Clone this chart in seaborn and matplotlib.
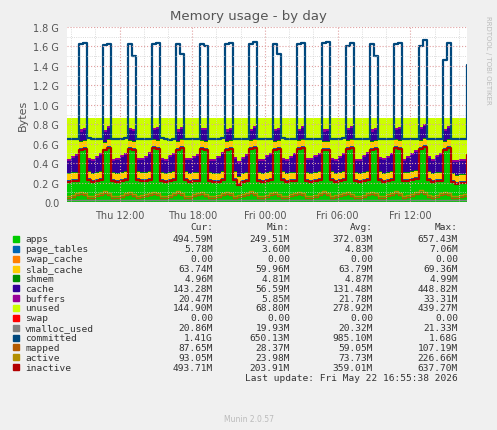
import numpy as np
import matplotlib.pyplot as plt
import seaborn as sns

sns.set_style("white")
plt.rcParams['font.family'] = ['DejaVu Sans']

# 20-minute samples starting Thu 07:40, values in GB
hours = [i / 3 for i in range(100)]

apps = [
    0.22, 0.23, 0.23, 0.55, 0.56, 0.24,
    0.22, 0.23, 0.24, 0.54, 0.57, 0.23,
    0.22, 0.23, 0.24, 0.56, 0.55, 0.24,
    0.23, 0.23, 0.24, 0.57, 0.56, 0.23,
    0.22, 0.23, 0.24, 0.55, 0.57, 0.24,
    0.22, 0.23, 0.23, 0.56, 0.55, 0.23,
    0.22, 0.22, 0.24, 0.55, 0.56, 0.24,
    0.19, 0.22, 0.23, 0.56, 0.57, 0.23,
    0.22, 0.23, 0.24, 0.55, 0.56, 0.24,
    0.22, 0.23, 0.23, 0.56, 0.57, 0.23,
    0.22, 0.23, 0.24, 0.55, 0.55, 0.24,
    0.22, 0.23, 0.24, 0.56, 0.57, 0.23,
    0.22, 0.23, 0.24, 0.55, 0.56, 0.24,
    0.22, 0.23, 0.24, 0.57, 0.56, 0.23,
    0.23, 0.24, 0.25, 0.56, 0.58, 0.24,
    0.22, 0.23, 0.23, 0.55, 0.57, 0.22,
    0.20, 0.21, 0.21, 0.49,
]
cache = [
    0.13, 0.15, 0.17, 0.10, 0.11, 0.12,
    0.13, 0.15, 0.17, 0.10, 0.12, 0.12,
    0.14, 0.16, 0.17, 0.11, 0.11, 0.12,
    0.13, 0.15, 0.18, 0.10, 0.12, 0.13,
    0.13, 0.16, 0.17, 0.10, 0.11, 0.12,
    0.14, 0.15, 0.17, 0.11, 0.12, 0.12,
    0.13, 0.16, 0.18, 0.10, 0.11, 0.13,
    0.14, 0.15, 0.17, 0.10, 0.12, 0.12,
    0.13, 0.16, 0.17, 0.11, 0.11, 0.12,
    0.13, 0.15, 0.18, 0.10, 0.12, 0.13,
    0.14, 0.16, 0.17, 0.10, 0.11, 0.12,
    0.13, 0.15, 0.17, 0.11, 0.12, 0.12,
    0.13, 0.16, 0.18, 0.10, 0.11, 0.13,
    0.14, 0.15, 0.17, 0.10, 0.12, 0.12,
    0.15, 0.17, 0.19, 0.12, 0.13, 0.14,
    0.13, 0.16, 0.18, 0.11, 0.12, 0.12,
    0.14, 0.14, 0.14, 0.14,
]
committed = [
    0.65, 0.65, 0.65, 1.62, 1.64, 0.66,
    0.65, 0.65, 0.65, 1.61, 1.63, 0.65,
    0.65, 0.65, 0.66, 1.63, 1.50, 0.65,
    0.65, 0.65, 0.65, 1.62, 1.64, 0.66,
    0.65, 0.64, 0.65, 1.62, 1.52, 0.65,
    0.65, 0.65, 0.65, 1.63, 1.60, 0.65,
    0.65, 0.65, 0.66, 1.62, 1.64, 0.65,
    0.65, 0.65, 0.65, 1.63, 1.65, 0.65,
    0.65, 0.65, 0.65, 1.62, 1.52, 0.66,
    0.65, 0.65, 0.65, 1.63, 1.64, 0.65,
    0.65, 0.65, 0.65, 1.64, 1.65, 0.65,
    0.65, 0.65, 0.66, 1.60, 1.64, 0.65,
    0.65, 0.65, 0.65, 1.63, 1.50, 0.65,
    0.65, 0.65, 0.65, 1.63, 1.64, 0.65,
    0.65, 0.65, 0.65, 1.60, 1.67, 0.65,
    0.65, 0.65, 0.65, 1.46, 1.64, 0.65,
    0.65, 0.65, 0.65, 1.41,
]
inactive = [a - 0.01 for a in apps]
active = [
    0.06, 0.07, 0.09, 0.10, 0.09, 0.06,
    0.06, 0.08, 0.09, 0.11, 0.09, 0.06,
    0.06, 0.07, 0.09, 0.10, 0.08, 0.06,
    0.07, 0.08, 0.09, 0.10, 0.09, 0.06,
    0.06, 0.07, 0.09, 0.11, 0.09, 0.06,
    0.06, 0.08, 0.09, 0.10, 0.08, 0.06,
    0.06, 0.07, 0.09, 0.10, 0.09, 0.06,
    0.07, 0.08, 0.09, 0.11, 0.09, 0.06,
    0.06, 0.07, 0.09, 0.10, 0.08, 0.06,
    0.06, 0.08, 0.09, 0.10, 0.09, 0.06,
    0.06, 0.07, 0.09, 0.11, 0.09, 0.06,
    0.07, 0.08, 0.09, 0.10, 0.08, 0.06,
    0.06, 0.07, 0.09, 0.10, 0.09, 0.06,
    0.06, 0.08, 0.09, 0.11, 0.09, 0.06,
    0.07, 0.08, 0.10, 0.12, 0.10, 0.07,
    0.06, 0.07, 0.09, 0.10, 0.09, 0.06,
    0.06, 0.07, 0.08, 0.09,
]
mapped = [v - 0.02 for v in active]
slab_cache = [0.064] * 100
buffers = [0.021] * 100
page_tables = [0.006] * 100
shmem = [0.005] * 100
swap_cache = [0.0] * 100
vmalloc_used = [0.02] * 100
total_ram = 0.865

legend_rows = [
    ("apps", "#00CC00", "494.59M", "249.51M", "372.03M", "657.43M"),
    ("page_tables", "#0066B3", "5.78M", "3.60M", "4.83M", "7.06M"),
    ("swap_cache", "#FF8000", "0.00", "0.00", "0.00", "0.00"),
    ("slab_cache", "#FFCC00", "63.74M", "59.96M", "63.79M", "69.36M"),
    ("shmem", "#008F00", "4.96M", "4.81M", "4.87M", "4.99M"),
    ("cache", "#330099", "143.28M", "56.59M", "131.48M", "448.82M"),
    ("buffers", "#990099", "20.47M", "5.85M", "21.78M", "33.31M"),
    ("unused", "#CCFF00", "144.90M", "68.80M", "278.92M", "439.27M"),
    ("swap", "#FF0000", "0.00", "0.00", "0.00", "0.00"),
    ("vmalloc_used", "#808080", "20.86M", "19.93M", "20.32M", "21.33M"),
    ("committed", "#00487D", "1.41G", "650.13M", "985.10M", "1.68G"),
    ("mapped", "#B35A00", "87.65M", "28.37M", "59.05M", "107.19M"),
    ("active", "#B38F00", "93.05M", "23.98M", "73.73M", "226.66M"),
    ("inactive", "#B30000", "493.71M", "203.91M", "359.01M", "637.70M"),
]
col = {r[0]: r[1] for r in legend_rows}

x = np.array(hours)
stack = [apps, page_tables, swap_cache, slab_cache, shmem, cache, buffers]
used = np.sum(np.array(stack), axis=0)
unused = total_ram - used

fig = plt.figure(figsize=(4.97, 4.31), dpi=100, facecolor="#F0F0F0")
ax = fig.add_axes([67 / 497, 1 - 203 / 431, 400 / 497, 175 / 431])
ax.stackplot(x, *stack, unused,
             colors=[col[n] for n in ["apps", "page_tables", "swap_cache", "slab_cache",
                                      "shmem", "cache", "buffers", "unused"]],
             step="post", linewidth=0)
for name, vals, lw in [("vmalloc_used", vmalloc_used, 1), ("mapped", mapped, 1),
                       ("active", active, 1), ("inactive", inactive, 1.6),
                       ("committed", committed, 1.6)]:
    sns.lineplot(x=x, y=vals, ax=ax, color=col[name], linewidth=lw,
                 drawstyle="steps-post")

ax.set_xlim(0, 33)
ax.set_ylim(0, 1.8)
ax.set_yticks(np.arange(0, 1.81, 0.2))
ax.set_yticklabels(["0.0"] + [f"{v:.1f} G" for v in np.arange(0.2, 1.81, 0.2)])
ax.set_xticks([4.333, 10.333, 16.333, 22.333, 28.333])
ax.set_xticklabels(["Thu 12:00", "Thu 18:00", "Fri 00:00", "Fri 06:00", "Fri 12:00"])
ax.set_yticks(np.arange(0, 1.81, 0.1), minor=True)
ax.set_xticks(np.arange(0.333, 33, 2), minor=True)
ax.grid(True, which="major", color="#E0A0A0", linestyle=":", linewidth=0.8)
ax.grid(True, which="minor", color="#D0D0D0", linestyle=":", linewidth=0.6)
ax.set_axisbelow(False)
ax.tick_params(labelsize=7, colors="#555555", length=2)
for s in ax.spines.values():
    s.set_visible(False)
ax.set_ylabel("Bytes", fontsize=8, color="#555555")

fig.text(0.5, 1 - 20 / 431, "Memory usage - by day", ha="center", fontsize=9.5, color="#555555")
fig.text(488 / 497, 1 - 60 / 431, "RRDTOOL / TOBI OETIKER", rotation=270, fontsize=5,
         color="#BBBBBB", ha="center", va="center")

fs = 6.8
mono = "DejaVu Sans Mono"
hy = 228
colx = [213, 290, 373, 458]
for cx, h in zip(colx, ["Cur:", "Min:", "Avg:", "Max:"]):
    fig.text(cx / 497, 1 - hy / 431, h, ha="right", va="center", fontsize=fs,
             color="#333333", family=mono)
for i, (name, c, *vals) in enumerate(legend_rows):
    y = 240 + i * 9.85
    fig.patches.append(plt.Rectangle((13 / 497, 1 - (y + 3) / 431), 6 / 497, 6 / 431,
                                     transform=fig.transFigure, color=c))
    fig.text(25 / 497, 1 - y / 431, name, va="center", fontsize=fs, color="#333333",
             family=mono)
    for cx, v in zip(colx, vals):
        fig.text(cx / 497, 1 - y / 431, v, ha="right", va="center", fontsize=fs,
                 color="#333333", family=mono)
fig.text(458 / 497, 1 - 379 / 431, "Last update: Fri May 22 16:55:38 2026", ha="right",
         va="center", fontsize=fs, color="#333333", family=mono)
fig.text(0.5, 1 - 420 / 431, "Munin 2.0.57", ha="center", va="center", fontsize=5.5,
         color="#BBBBBB")

fig.savefig("out.png", dpi=100, facecolor=fig.get_facecolor())
